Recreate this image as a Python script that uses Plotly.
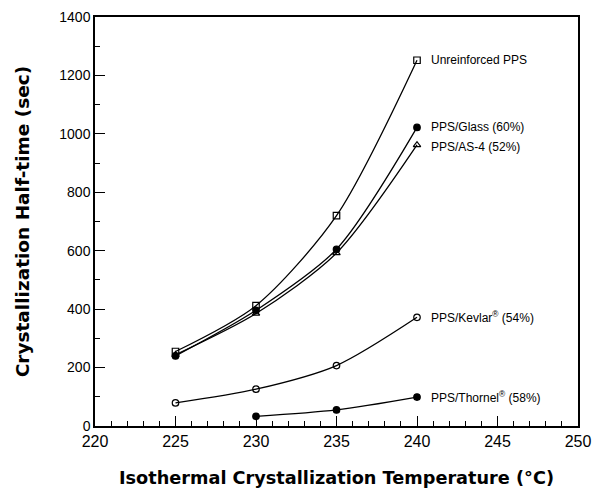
import plotly.graph_objects as go

temps = [225, 230, 235, 240]
temps_thornel = [230, 235, 240]
unreinforced = [255, 412, 720, 1252]
glass = [240, 396, 605, 1022]
as4 = [244, 385, 592, 962]
kevlar = [79, 126, 207, 372]
thornel = [33, 55, 99]

series = [
    ("Unreinforced PPS", temps, unreinforced, "square-open"),
    ("PPS/Glass (60%)", temps, glass, "circle"),
    ("PPS/AS-4 (52%)", temps, as4, "triangle-up-open"),
    ("PPS/Kevlar<sup>®</sup> (54%)", temps, kevlar, "circle-open"),
    ("PPS/Thornel<sup>®</sup> (58%)", temps_thornel, thornel, "circle"),
]
label_y = [1252, 1022, 955, 372, 99]

fig = go.Figure()
for (name, xs, ys, sym) in series:
    fig.add_trace(go.Scatter(
        x=xs, y=ys, mode="lines+markers", name=name,
        line=dict(color="black", width=1.3, shape="spline", smoothing=0.8),
        marker=dict(symbol=sym, size=6.5, color="black", line=dict(color="black", width=1.2)),
        showlegend=False,
    ))

for (name, xs, ys, sym), ly in zip(series, label_y):
    fig.add_annotation(x=xs[-1], y=ly, text=name, showarrow=False,
                       xanchor="left", xshift=12, yanchor="middle",
                       font=dict(family="Liberation Sans", size=12, color="black"))

axis_common = dict(showline=True, linecolor="black", linewidth=1.5, mirror=True,
                   ticks="inside", tickcolor="black", tickwidth=1.3, ticklen=10,
                   showgrid=False, zeroline=False, automargin=False)

fig.update_xaxes(range=[220, 250], dtick=5, tick0=220,
                 minor=dict(ticks="inside", dtick=1, ticklen=5, tickcolor="black", tickwidth=1.2),
                 tickfont=dict(family="Liberation Sans", size=16, color="black"),
                 title=dict(text="Isothermal Crystallization Temperature (°C)",
                            font=dict(family="DejaVu Sans", size=17.7, color="black", weight="bold"),
                            standoff=23),
                 **axis_common)
fig.update_yaxes(range=[0, 1400], dtick=200, tick0=0,
                 minor=dict(ticks="inside", dtick=100, ticklen=5, tickcolor="black", tickwidth=1.2),
                 tickfont=dict(family="Liberation Sans", size=14, color="black"),
                 title=dict(text="Crystallization Half-time (sec)",
                            font=dict(family="DejaVu Sans", size=18.5, color="black", weight="bold"),
                            standoff=25),
                 **axis_common)

fig.update_layout(width=593, height=488, margin=dict(l=95, r=15, t=17, b=62),
                  paper_bgcolor="white", plot_bgcolor="white")
fig.write_html("out.html")
